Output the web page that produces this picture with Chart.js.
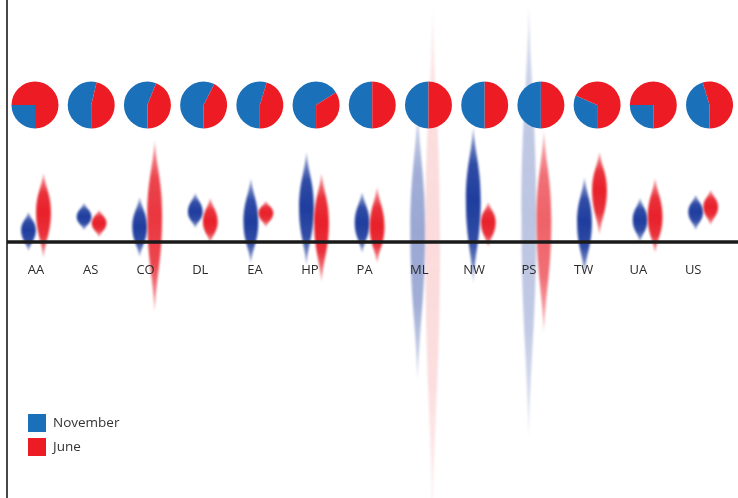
<!DOCTYPE html>
<html>
<head>
<meta charset="utf-8">
<script src="https://cdn.jsdelivr.net/npm/chart.js@4.4.1/dist/chart.umd.min.js"></script>
<style>
  html, body { margin: 0; padding: 0; background: #fff; }
  #wrap { width: 738px; height: 498px; }
</style>
</head>
<body>
<div id="wrap"><canvas id="violinChart"></canvas></div>
<script>
// Categories along the baseline
const categories = ['AA', 'AS', 'CO', 'DL', 'EA', 'HP', 'PA', 'ML', 'NW', 'PS', 'TW', 'UA', 'US'];
const seriesNames = ['November', 'June'];

// November distributions: upper tip, widest point, lower tip
const novTop    = [3.0, 3.9, 4.5, 4.9, 6.4, 9.0, 5.0, 13.2, 11.5, 23.7, 6.5, 4.4, 4.7];
const novMode   = [1.2, 2.5, 1.5, 3.0, 2.0, 3.4, 1.9, 1.2, 4.2, 2.5, 2.0, 2.2, 3.0];
const novBottom = [-0.9, 1.2, -1.5, 1.4, -2.1, -2.3, -1.1, -13.8, -4.1, -19.5, -3.1, 0.0, 1.2];

// June distributions
const junTop    = [6.9, 3.2, 10.2, 4.4, 4.1, 6.9, 5.5, 23.7, 4.0, 11.2, 9.0, 6.4, 5.2];
const junMode   = [3.0, 1.9, 2.7, 2.0, 2.9, 2.0, 1.5, 0.2, 2.0, 2.2, 5.2, 2.5, 3.5];
const junBottom = [-1.6, 0.5, -7.0, -0.1, 1.5, -4.0, -2.1, -28.0, -0.5, -9.1, 0.7, -1.1, 1.7];

// November share of each pie
const novShare = [0.25, 0.537, 0.56, 0.575, 0.547, 0.66, 0.5, 0.5, 0.5, 0.5, 0.317, 0.25, 0.453];

// how strongly each violin is inked
const novFade = [1, 1, 1, 1, 1, 1, 1, 0.45, 1, 0.3, 1, 1, 1];
const junFade = [1, 1, 0.9, 1, 1, 1, 1, 0.16, 1, 0.7, 1, 1, 1];

const pieBlue = '#1b71b9';
const pieRed = '#ed1c24';
const violinBlue = [31, 61, 158];
const violinRed = [232, 32, 42];

function rgba(c, a) {
  return `rgba(${c[0]},${c[1]},${c[2]},${a})`;
}

function drawViolin(ctx, cx, yTop, yMode, yBot, hw, color, op) {
  const len = yBot - yTop;
  const m = Math.min(0.98, Math.max(0.02, (yMode - yTop) / len));
  const grad = ctx.createLinearGradient(0, yTop, 0, yBot);
  grad.addColorStop(0, rgba(color, op * 0.4));
  grad.addColorStop(m * 0.5, rgba(color, op * 0.92));
  grad.addColorStop(m, rgba(color, op));
  grad.addColorStop(m + (1 - m) * 0.5, rgba(color, op * 0.92));
  grad.addColorStop(1, rgba(color, op * 0.4));
  const up = yMode - yTop, dn = yBot - yMode;
  ctx.beginPath();
  ctx.moveTo(cx, yTop);
  ctx.bezierCurveTo(cx + hw * 0.3, yTop + up * 0.4, cx + hw, yMode - up * 0.45, cx + hw, yMode);
  ctx.bezierCurveTo(cx + hw, yMode + dn * 0.45, cx + hw * 0.3, yBot - dn * 0.4, cx, yBot);
  ctx.bezierCurveTo(cx - hw * 0.3, yBot - dn * 0.4, cx - hw, yMode + dn * 0.45, cx - hw, yMode);
  ctx.bezierCurveTo(cx - hw, yMode - up * 0.45, cx - hw * 0.3, yTop + up * 0.4, cx, yTop);
  ctx.closePath();
  ctx.fillStyle = grad;
  ctx.fill();
}

const violinPlugin = {
  id: 'violins',
  afterDraw(chart) {
    const ctx = chart.ctx;
    const { x, y } = chart.scales;
    const area = chart.chartArea;
    const offset = 0.135;   // half gap between the two violins of a pair
    const hw = 7.4;

    ctx.save();
    ctx.filter = 'blur(0.9px)';
    categories.forEach((c, i) => {
      drawViolin(ctx, x.getPixelForValue(i - offset), y.getPixelForValue(novTop[i]),
        y.getPixelForValue(novMode[i]), y.getPixelForValue(novBottom[i]), hw, violinBlue, novFade[i]);
      drawViolin(ctx, x.getPixelForValue(i + offset), y.getPixelForValue(junTop[i]),
        y.getPixelForValue(junMode[i]), y.getPixelForValue(junBottom[i]), hw, violinRed, junFade[i]);
    });
    ctx.restore();

    // axes
    ctx.save();
    ctx.strokeStyle = '#1a1a1a';
    ctx.lineWidth = 1.6;
    ctx.beginPath();
    ctx.moveTo(area.left, 0);
    ctx.lineTo(area.left, chart.height);
    ctx.stroke();
    const y0 = y.getPixelForValue(0);
    ctx.lineWidth = 3.5;
    ctx.beginPath();
    ctx.moveTo(area.left, y0);
    ctx.lineTo(area.right, y0);
    ctx.stroke();

    // category labels
    ctx.fillStyle = '#2b2b2b';
    ctx.font = '13px "Open Sans"';
    ctx.textAlign = 'center';
    ctx.textBaseline = 'middle';
    categories.forEach((c, i) => {
      ctx.fillText(c, x.getPixelForValue(i * 0.985), y0 + 28);
    });

    // pies
    const pieY = y.getPixelForValue(13.7);
    const r = 23.5;
    categories.forEach((c, i) => {
      const cx = x.getPixelForValue(i * 1.011 - 0.018);
      const start = Math.PI / 2;
      const mid = start + Math.PI * 2 * novShare[i];
      ctx.fillStyle = pieBlue;
      ctx.beginPath();
      ctx.moveTo(cx, pieY);
      ctx.arc(cx, pieY, r, start, mid);
      ctx.closePath();
      ctx.fill();
      ctx.fillStyle = pieRed;
      ctx.beginPath();
      ctx.moveTo(cx, pieY);
      ctx.arc(cx, pieY, r, mid, start + Math.PI * 2);
      ctx.closePath();
      ctx.fill();
    });

    // legend
    const colors = [pieBlue, pieRed];
    ctx.textAlign = 'left';
    ctx.font = '13.5px "Open Sans"';
    seriesNames.forEach((name, k) => {
      const top = 414 + k * 24;
      ctx.fillStyle = colors[k];
      ctx.fillRect(28, top, 18, 18);
      ctx.fillStyle = '#333';
      ctx.fillText(name, 53, top + 9.5);
    });
    ctx.restore();
  }
};

new Chart(document.getElementById('violinChart').getContext('2d'), {
  type: 'scatter',
  data: { datasets: [] },
  options: {
    responsive: true,
    maintainAspectRatio: false,
    animation: false,
    layout: { padding: { left: 7, right: 0, top: 0, bottom: 0 } },
    plugins: { legend: { display: false }, tooltip: { enabled: false } },
    scales: {
      x: { type: 'linear', display: false, min: -0.5216, max: 12.626 },
      y: { type: 'linear', display: false, min: -25.6, max: 24.2 }
    }
  },
  plugins: [violinPlugin]
});
</script>
</body>
</html>
